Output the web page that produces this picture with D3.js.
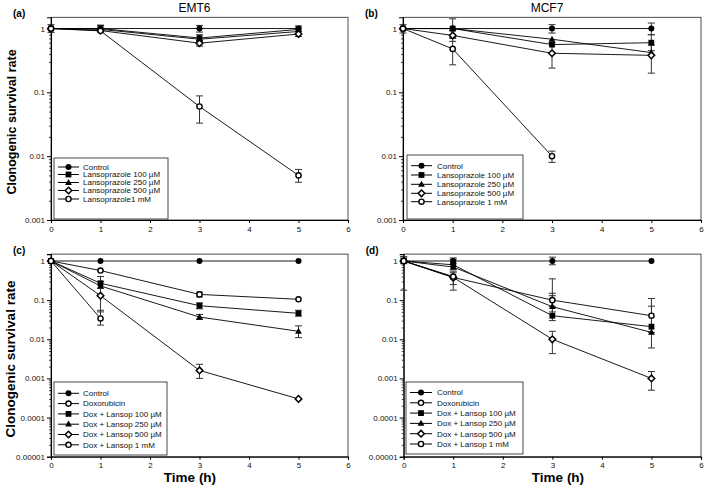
<!DOCTYPE html>
<html><head><meta charset="utf-8">
<script src="https://cdn.jsdelivr.net/npm/d3@7"></script>
<style>body{margin:0;background:#fff}svg{display:block}text{font-family:"Liberation Sans",Arial,sans-serif}</style>
</head><body><svg id="c" width="704" height="490"></svg>
<script>
const times = [0, 1, 3, 5];
const xTicks = [0, 1, 2, 3, 4, 5, 6];
const yTicksTop = [1, 0.1, 0.01, 0.001];
const yTicksBottom = [1, 0.1, 0.01, 0.001, 0.0001, 0.00001];
const yTickLabels = {"1":"1","0.1":"0.1","0.01":"0.01","0.001":"0.001","0.0001":"0.0001","0.00001":"0.00001"};

const legendA = ["Control","Lansoprazole 100 µM","Lansoprazole 250 µM","Lansoprazole 500 µM","Lansoprazole1 mM"];
const legendB = ["Control","Lansoprazole 100 µM","Lansoprazole 250 µM","Lansoprazole 500 µM","Lansoprazole 1 mM"];
const legendCD = ["Control","Doxorubicin","Dox + Lansop 100 µM","Dox + Lansop 250 µM","Dox + Lansop 500 µM","Dox + Lansop 1 mM"];
const markersAB = ["fc","sq","tri","dia","oc"];
const markersCD = ["fc","oc","sq","tri","dia","oc"];

// Panel (a) EMT6
const aControl = [1, 1, 1, 1];
const a100 = [1, 1, 0.71, 0.97];
const a250 = [1, 0.97, 0.68, 0.9];
const a500 = [1, 0.93, 0.59, 0.82];
const a1mM = [1, 0.92, 0.06, 0.005];
const aErr = [
  [[0.87,1.15],[0.9,1.12],[0.88,1.12],[0.9,1.1]],
  [null,[0.88,1.13],[0.62,0.8],null],
  [null,null,null,null],
  [null,null,[0.53,0.65],[0.75,0.9]],
  [null,null,[0.033,0.088],[0.0039,0.0062]]
];
// Panel (b) MCF7
const bControl = [1, 1, 1, 1];
const b100 = [1, 1, 0.56, 0.6];
const b250 = [1, 1, 0.68, 0.42];
const b500 = [1, 0.78, 0.41, 0.38];
const b1mM = [1, 0.48, 0.01, null];
const bErr = [
  [[0.85,1.15],[0.72,1.42],[0.85,1.15],[0.8,1.22]],
  [null,null,null,[0.45,0.8]],
  [null,null,null,null],
  [null,[0.63,0.92],[0.24,0.6],[0.2,0.55]],
  [null,[0.27,0.7],[0.008,0.012],null]
];
// Panel (c) EMT6 + Dox
const cControl = [1, 1, 1, 1];
const cDox = [1, 0.57, 0.14, 0.105];
const c100 = [1, 0.27, 0.072, 0.046];
const c250 = [1, 0.23, 0.037, 0.016];
const c500 = [1, 0.13, 0.0016, 0.0003];
const c1mM = [1, 0.034, null, null];
const cErr = [
  [null,null,null,null],
  [null,null,[0.12,0.16],null],
  [null,[0.2,0.4],[0.06,0.085],[0.039,0.055]],
  [null,null,[0.032,0.043],[0.011,0.022]],
  [null,[0.05,0.3],[0.001,0.0023],null],
  [null,[0.023,0.055],null,null]
];
// Panel (d) MCF7 + Dox
const dControl = [1, 1, 1, 1];
const dDox = [1, 0.38, 0.1, 0.04];
const d100 = [1, 0.8, 0.04, 0.021];
const d250 = [1, 0.7, 0.068, 0.015];
const d500 = [1, 0.38, 0.01, 0.001];
const d1mM = [1, 0.4, null, null];
const dErr = [
  [[0.85,1.2],[0.85,1.2],[0.8,1.25],null],
  [null,[0.18,0.5],[0.07,0.35],[0.015,0.11]],
  [null,[0.6,1.1],[0.03,0.15],null],
  [null,null,[0.05,0.13],[0.006,0.07]],
  [null,[0.25,0.55],[0.0043,0.016],[0.0005,0.0015]],
  [[0.18,1.3],null,null,null]
];

const panels = [
  {label:"(a)", title:"EMT6", x0:51, x1:348, yTop:17.3, yBot:220, ymin:0.001, ticks:yTicksTop,
   series:[aControl,a100,a250,a500,a1mM], err:aErr, names:legendA, marks:markersAB,
   leg:{x:54,y:158,w:114,h:61,rows:[167,174.5,182.5,190.5,199],lx0:58,lx1:79,tx:83}},
  {label:"(b)", title:"MCF7", x0:403, x1:701, yTop:17.3, yBot:220, ymin:0.001, ticks:yTicksTop,
   series:[bControl,b100,b250,b500,b1mM], err:bErr, names:legendB, marks:markersAB,
   leg:{x:407,y:155,w:116,h:64,rows:[165.7,175,184.3,193.3,201.7],lx0:411,lx1:432,tx:437}},
  {label:"(c)", title:null, x0:51, x1:348, yTop:254.1, yBot:456.7, ymin:0.00001, ticks:yTicksBottom,
   series:[cControl,cDox,c100,c250,c500,c1mM], err:cErr, names:legendCD, marks:markersCD,
   leg:{x:54,y:382,w:113,h:73,rows:[393.3,403.6,413.9,424.2,434.5,444.8],lx0:58,lx1:79,tx:83}},
  {label:"(d)", title:null, x0:403.7, x1:701, yTop:254.1, yBot:456.7, ymin:0.00001, ticks:yTicksBottom,
   series:[dControl,dDox,d100,d250,d500,d1mM], err:dErr, names:legendCD, marks:markersCD,
   leg:{x:406,y:382,w:117,h:72,rows:[392.5,402.8,413.1,423.4,433.7,444],lx0:410,lx1:432,tx:437}}
];

const svg = d3.select("#c");
svg.append("rect").attr("width",704).attr("height",490).attr("fill","#fff");

function marker(g, type, x, y) {
  const t = `translate(${x},${y})`;
  if (type === "fc") {
    g.append("circle").attr("cx", x).attr("cy", y).attr("r", 3).attr("fill", "#000");
  } else if (type === "oc") {
    g.append("circle").attr("cx", x).attr("cy", y).attr("r", 2.6).attr("fill", "#fff").attr("stroke", "#000").attr("stroke-width", 1.4);
  } else if (type === "sq") {
    g.append("rect").attr("x", x - 2.9).attr("y", y - 2.9).attr("width", 5.8).attr("height", 5.8).attr("fill", "#000");
  } else if (type === "tri") {
    g.append("path").attr("d", "M0,-3.6L3.4,2.4L-3.4,2.4Z").attr("transform", t).attr("fill", "#000");
  } else if (type === "dia") {
    g.append("path").attr("d", "M0,-3.3L3.3,0L0,3.3L-3.3,0Z").attr("transform", t).attr("fill", "#fff").attr("stroke", "#000").attr("stroke-width", 1.5);
  }
}

panels.forEach((p, pi) => {
  const x = d3.scaleLinear().domain([0, 6]).range([p.x0, p.x1]);
  const y = d3.scaleLog().domain([p.ymin, 1.5]).range([p.yBot, p.yTop]);
  const g = svg.append("g");

  // frame
  g.append("rect").attr("x", p.x0).attr("y", p.yTop).attr("width", p.x1 - p.x0).attr("height", p.yBot - p.yTop)
    .attr("fill", "none").attr("stroke", "#222").attr("stroke-width", 0.8);

  // minor y ticks
  const minors = [];
  for (let e = Math.log10(p.ymin); e < 1; e++) for (let k = 2; k <= 9; k++) { const v = k * Math.pow(10, e); if (v <= 1.5) minors.push(v); }
  const ym = g.append("g").attr("transform", `translate(${p.x0},0)`)
    .call(d3.axisLeft(y).tickValues(minors).tickSize(2).tickFormat(""));
  ym.select(".domain").remove();
  ym.selectAll("line").attr("stroke", "#000").attr("stroke-width", 0.7);

  const ya = g.append("g").attr("transform", `translate(${p.x0},0)`)
    .call(d3.axisLeft(y).tickValues(p.ticks).tickSize(4).tickPadding(2).tickFormat(d => yTickLabels[String(d)]));
  ya.select(".domain").attr("stroke", "#000").attr("stroke-width", 1.1);
  ya.selectAll("line").attr("stroke", "#000");
  ya.selectAll("text").attr("font-size", 8).attr("font-family", "Liberation Sans, Arial, sans-serif").attr("fill", "#111");

  const xa = g.append("g").attr("transform", `translate(0,${p.yBot})`)
    .call(d3.axisBottom(x).tickValues(xTicks).tickSize(3).tickPadding(3).tickFormat(d3.format("d")));
  xa.select(".domain").attr("stroke", "#000").attr("stroke-width", 1.1);
  xa.selectAll("line").attr("stroke", "#000");
  xa.selectAll("text").attr("font-size", 8).attr("font-family", "Liberation Sans, Arial, sans-serif").attr("fill", "#111");

  const clip = "clip" + pi;
  svg.append("clipPath").attr("id", clip).append("rect").attr("x", p.x0 - 6).attr("y", p.yTop).attr("width", p.x1 - p.x0 + 12).attr("height", p.yBot - p.yTop);
  const dg = g.append("g").attr("clip-path", `url(#${clip})`);

  // lines
  const line = d3.line().defined(d => d.v != null).x(d => x(d.t)).y(d => y(d.v));
  p.series.forEach((s, si) => {
    const pts = times.map((t, i) => ({t, v: s[i]}));
    dg.append("path").attr("d", line(pts)).attr("fill", "none").attr("stroke", "#000").attr("stroke-width", 0.9);
  });
  // error bars
  p.err.forEach((es, si) => {
    es.forEach((e, i) => {
      if (!e) return;
      const cx = x(times[i]);
      dg.append("line").attr("x1", cx).attr("x2", cx).attr("y1", y(e[0])).attr("y2", y(e[1])).attr("stroke", "#333").attr("stroke-width", 1);
      [e[0], e[1]].forEach(v => dg.append("line").attr("x1", cx - 3.5).attr("x2", cx + 3.5).attr("y1", y(v)).attr("y2", y(v)).attr("stroke", "#333").attr("stroke-width", 1));
    });
  });
  // markers
  p.series.forEach((s, si) => {
    times.forEach((t, i) => { if (s[i] != null) marker(dg, p.marks[si], x(t), y(s[i])); });
  });

  // legend
  const L = p.leg;
  g.append("rect").attr("x", L.x).attr("y", L.y).attr("width", L.w).attr("height", L.h).attr("fill", "#fff").attr("stroke", "#333").attr("stroke-width", 0.9);
  p.names.forEach((n, i) => {
    const yy = L.rows[i];
    g.append("line").attr("x1", L.lx0).attr("x2", L.lx1).attr("y1", yy).attr("y2", yy).attr("stroke", "#000").attr("stroke-width", 1);
    marker(g, p.marks[i], (L.lx0 + L.lx1) / 2, yy);
    g.append("text").attr("x", L.tx).attr("y", yy + 2.8).attr("font-size", 8).attr("fill", "#111").text(n);
  });

  // labels
  g.append("text").attr("x", p.x0 - 38).attr("y", p.yTop - 0.5).attr("font-size", 10).attr("font-weight", "bold").text(p.label);
  if (p.title) g.append("text").attr("x", (p.x0 + p.x1) / 2 - 5).attr("y", 12).attr("text-anchor", "middle").attr("font-size", 12).text(p.title);
});

svg.append("text").attr("transform", "translate(16,122) rotate(-90)").attr("text-anchor", "middle").attr("font-size", 12.5).attr("font-weight", "bold").text("Clonogenic survival rate");
svg.append("text").attr("transform", "translate(15,359) rotate(-90)").attr("text-anchor", "middle").attr("font-size", 13.5).attr("font-weight", "bold").text("Clonogenic survival rate");
svg.append("text").attr("x", 190).attr("y", 482).attr("text-anchor", "middle").attr("font-size", 13.5).attr("font-weight", "bold").text("Time (h)");
svg.append("text").attr("x", 558).attr("y", 482).attr("text-anchor", "middle").attr("font-size", 13.5).attr("font-weight", "bold").text("Time (h)");
</script></body></html>
